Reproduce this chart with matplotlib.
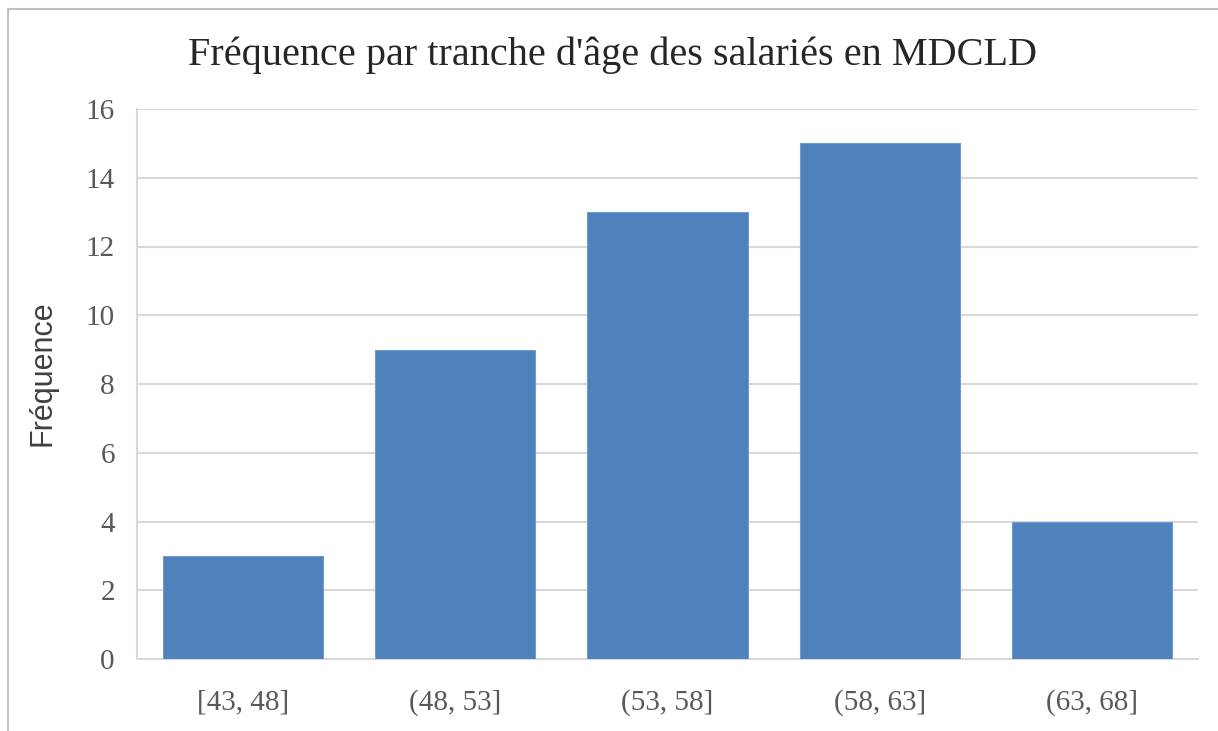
import numpy as np
import matplotlib.pyplot as plt
from matplotlib.patches import Rectangle

categories = ["[43, 48]", "(48, 53]", "(53, 58]", "(58, 63]", "(63, 68]"]
frequences = [3, 9, 13, 15, 4]

fig = plt.figure(figsize=(12.18, 7.31), dpi=100)
ax = fig.add_axes([137 / 1218, 72 / 731, (1198 - 137) / 1218, (659 - 109) / 731])

x = np.arange(len(categories))
ax.bar(x, frequences, width=0.755, color="#4F81BD", edgecolor="#6F9BD1", linewidth=0.8, zorder=3)

ax.set_xlim(-0.5, len(categories) - 0.5)
ax.set_ylim(0, 16)
ax.set_yticks(np.arange(0, 17, 2))
ax.set_xticks(x)
ax.set_xticklabels(categories)

for lbl in ax.get_xticklabels() + ax.get_yticklabels():
    lbl.set_fontfamily("Liberation Serif")
    lbl.set_fontsize(21)
    lbl.set_color("#595959")
ax.tick_params(axis="both", length=0)
ax.tick_params(axis="x", pad=22)
ax.tick_params(axis="y", pad=16)

ax.grid(axis="y", color="#D9D9D9", linewidth=1.5, zorder=0)
for s in ["top", "right"]:
    ax.spines[s].set_visible(False)
ax.spines["left"].set_color("#D9D9D9")
ax.spines["left"].set_linewidth(1.5)
ax.spines["bottom"].set_color("#D9D9D9")
ax.spines["bottom"].set_linewidth(1.5)

ax.set_ylabel("Fréquence", fontfamily="Liberation Sans", fontsize=22, color="#404040")
ax.yaxis.set_label_coords(-80 / (1198 - 137), 0.52)

fig.text(0.5025, 0.924, "Fréquence par tranche d'âge des salariés en MDCLD",
         ha="center", va="center", fontfamily="Liberation Serif", fontsize=29, color="#262626")

# cadre du graphique
fig.patches.append(Rectangle((8 / 1218, -0.1), 1.2, (731 - 9) / 731 + 0.1,
                             transform=fig.transFigure, fill=False,
                             edgecolor="#BFBFBF", linewidth=1.5))

fig.savefig("out.png", dpi=100)
